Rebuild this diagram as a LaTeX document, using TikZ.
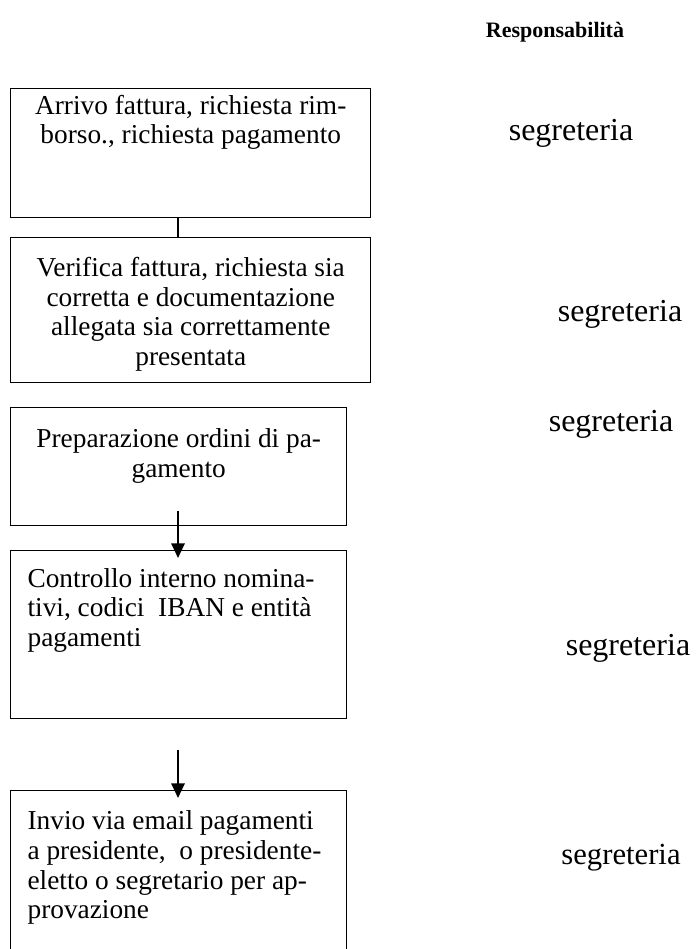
\documentclass[tikz,border=0pt]{standalone}
\usepackage{fontspec}
\setmainfont{Liberation Serif}
\usetikzlibrary{
	arrows.meta,
	calc,
	positioning
}

\begin{document}
\begin{tikzpicture}[x=0.75pt,y=-0.75pt,
		box/.style={draw,line width=1.1pt,inner sep=0pt,anchor=north west},
		txt/.style={inner sep=0pt,font=\fontsize{20.5}{22.2}\selectfont},
		resp/.style={inner sep=0pt,font=\fontsize{24}{28}\selectfont},
		conn/.style={line width=1.5pt},
		arr/.style={line width=1.5pt,-{Triangle[length=11pt,width=10pt]}}]
		\useasboundingbox (0,0) rectangle (696,949);
		% boxes
		\node[box,minimum width=270pt,minimum height=96.75pt] (B1) at (10,88) {};
		\node[box,minimum width=270pt,minimum height=108.75pt] (B2) at (10,237) {};
		\node[box,minimum width=252pt,minimum height=88.5pt] (B3) at (10,407) {};
		\node[box,minimum width=252pt,minimum height=126pt] (B4) at (10,550) {};
		\node[box,minimum width=252pt,minimum height=127.5pt] (B5) at (10,790) {};
		% texts in the boxes
		\node[txt,align=center,below=5pt of B1.north] (T1) {Arrivo fattura, richiesta rim-\\borso., richiesta pagamento};
		\node[txt,align=center,below=15pt of B2.north] (T2) {Verifica fattura, richiesta sia\\corretta e documentazione\\allegata sia correttamente\\presentata};
		\node[txt,align=center,below=16pt of B3.north] (T3) {Preparazione ordini di pa-\\gamento};
		\node[txt,align=left,below right=13.5pt and 13pt of B4.north west] (T4) {Controllo interno nomina-\\tivi, codici \ IBAN e entità\\pagamenti};
		\node[txt,align=left,below right=15.5pt and 13pt of B5.north west] (T5) {Invio via email pagamenti\\a presidente, \ o presidente-\\eletto o segretario per ap-\\provazione};
		% connectors
		\coordinate (P1) at ($(B1.south west)+(168,0)$);
		\coordinate (Q1) at ($(B2.north west)+(168,0)$);
		\draw[conn] (P1) -- (Q1);
		\coordinate (P2) at ($(B3.south west)+(168,-15)$);
		\coordinate (Q2) at ($(B4.north west)+(168,8)$);
		\draw[arr] (P2) -- (Q2);
		\coordinate (P3) at (178,750);
		\coordinate (Q3) at ($(B5.north west)+(168,8)$);
		\draw[arr] (P3) -- (Q3);
		% responsibilities
		\node[inner sep=0pt,font=\bfseries\fontsize{16.5}{20}\selectfont] (H) at (555,32) {Responsabilità};
		\node[resp] (R1) at (571,133) {segreteria};
		\node[resp] (R2) at (620,314) {segreteria};
		\node[resp] (R3) at (611,424) {segreteria};
		\node[resp] (R4) at (628,648) {segreteria};
		\node[resp,font=\fontsize{23}{27}\selectfont] (R5) at (621,858) {segreteria};
	\end{tikzpicture}
\end{document}
